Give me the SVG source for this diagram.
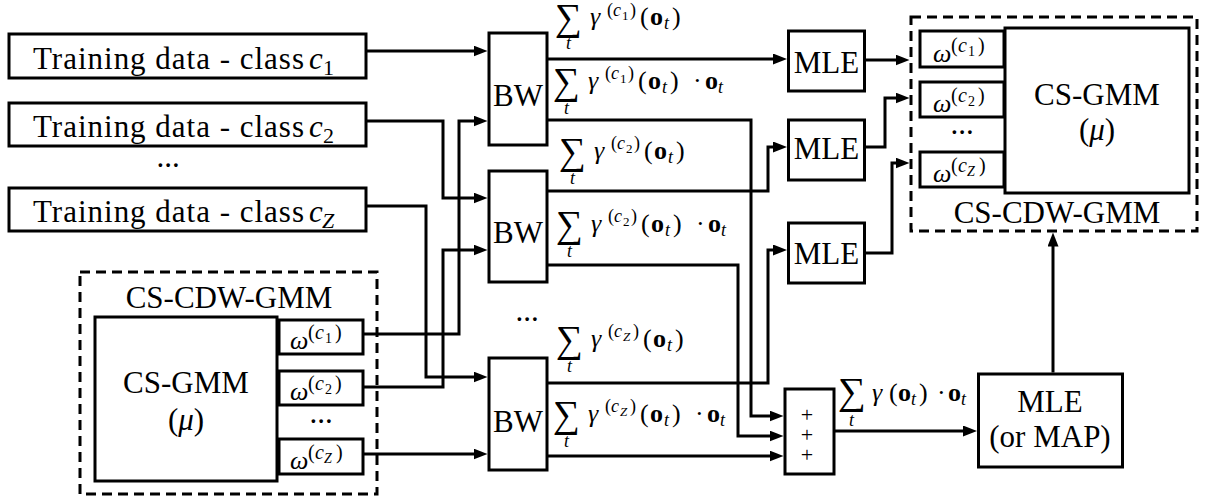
<svg xmlns="http://www.w3.org/2000/svg" width="1217" height="502" viewBox="0 0 1217 502" font-family="serif">
<defs>
<marker id="ah" markerUnits="userSpaceOnUse" markerWidth="14" markerHeight="11" refX="6" refY="5.5" orient="auto"><path d="M0,0 L14,5.5 L0,11 z" fill="#000"/></marker>
</defs>
<rect width="1217" height="502" fill="#fff"/>

<g id="train1">
<rect x="9" y="34" width="357" height="44" fill="#fff" stroke="#000" stroke-width="3"/>
<text font-family="serif" font-size="31" x="33" y="69" textLength="271">Training data - class</text>
<text font-family="serif" font-size="31" font-style="italic" x="309" y="69">c</text>
<text font-family="serif" font-size="22" x="323" y="75">1</text>
</g>
<g id="train2">
<rect x="9" y="103" width="357" height="43" fill="#fff" stroke="#000" stroke-width="3"/>
<text font-family="serif" font-size="31" x="33" y="137" textLength="271">Training data - class</text>
<text font-family="serif" font-size="31" font-style="italic" x="309" y="137">c</text>
<text font-family="serif" font-size="22" x="323" y="143">2</text>
</g>
<text font-family="serif" font-size="31" text-anchor="middle" x="168" y="167">...</text>
<g id="trainZ">
<rect x="9" y="188" width="357" height="43" fill="#fff" stroke="#000" stroke-width="3"/>
<text font-family="serif" font-size="31" x="33" y="222" textLength="271">Training data - class</text>
<text font-family="serif" font-size="31" font-style="italic" x="309" y="222">c</text>
<text font-family="serif" font-size="22" font-style="italic" x="322" y="228">Z</text>
</g>

<g id="cdw-left">
<rect x="80" y="272" width="297" height="222" fill="none" stroke="#000" stroke-width="3" stroke-dasharray="10 6"/>
<text font-family="serif" font-size="31" text-anchor="middle" x="229" y="308">CS-CDW-GMM</text>
<g id="gmm-left">
<rect x="95" y="317" width="182" height="164" fill="#fff" stroke="#000" stroke-width="3"/>
<text font-family="serif" font-size="31" text-anchor="middle" x="186" y="393">CS-GMM</text>
<text font-family="serif" font-size="31" text-anchor="middle" x="186" y="430">(<tspan font-style="italic">μ</tspan>)</text>
</g>
<g id="wl1">
<rect x="279" y="320" width="84" height="34" fill="#fff" stroke="#000" stroke-width="3"/>
<text font-family="serif" font-size="26" x="290" y="349"><tspan font-style="italic">ω</tspan><tspan font-size="20" x="308" y="339">(</tspan><tspan font-size="20" font-style="italic" x="315" y="339">c</tspan><tspan font-size="14" x="325" y="343">1</tspan><tspan font-size="20" x="335" y="339">)</tspan></text>
</g>
<g id="wl2">
<rect x="279" y="371" width="84" height="34" fill="#fff" stroke="#000" stroke-width="3"/>
<text font-family="serif" font-size="26" x="290" y="400"><tspan font-style="italic">ω</tspan><tspan font-size="20" x="308" y="390">(</tspan><tspan font-size="20" font-style="italic" x="315" y="390">c</tspan><tspan font-size="14" x="325" y="394">2</tspan><tspan font-size="20" x="335" y="390">)</tspan></text>
</g>
<text font-family="serif" font-size="31" text-anchor="middle" x="321" y="423">...</text>
<g id="wlZ">
<rect x="279" y="439" width="84" height="35" fill="#fff" stroke="#000" stroke-width="3"/>
<text font-family="serif" font-size="26" x="290" y="469"><tspan font-style="italic">ω</tspan><tspan font-size="20" x="308" y="459">(</tspan><tspan font-size="20" font-style="italic" x="315" y="459">c</tspan><tspan font-size="14" font-style="italic" x="324" y="463">Z</tspan><tspan font-size="20" x="336" y="459">)</tspan></text>
</g>
</g>

<g id="bw1">
<rect x="489" y="33" width="58" height="112" fill="#fff" stroke="#000" stroke-width="3"/>
<text font-family="serif" font-size="31" text-anchor="middle" x="518" y="106">BW</text>
</g>
<g id="bw2">
<rect x="489" y="171" width="58" height="111" fill="#fff" stroke="#000" stroke-width="3"/>
<text font-family="serif" font-size="31" text-anchor="middle" x="518" y="243">BW</text>
</g>
<text font-family="serif" font-size="31" text-anchor="middle" x="527" y="321">...</text>
<g id="bwZ">
<rect x="489" y="358" width="58" height="112" fill="#fff" stroke="#000" stroke-width="3"/>
<text font-family="serif" font-size="31" text-anchor="middle" x="518" y="432">BW</text>
</g>

<g id="mle1">
<rect x="788.5" y="31" width="76" height="60" fill="#fff" stroke="#000" stroke-width="3"/>
<text font-family="serif" font-size="31" text-anchor="middle" x="826.5" y="73">MLE</text>
</g>
<g id="mle2">
<rect x="788.5" y="120" width="76" height="60" fill="#fff" stroke="#000" stroke-width="3"/>
<text font-family="serif" font-size="31" text-anchor="middle" x="826.5" y="159">MLE</text>
</g>
<g id="mle3">
<rect x="788.5" y="223" width="76" height="60" fill="#fff" stroke="#000" stroke-width="3"/>
<text font-family="serif" font-size="31" text-anchor="middle" x="826.5" y="264">MLE</text>
</g>

<g id="cdw-right">
<rect x="911" y="17" width="286" height="214" fill="none" stroke="#000" stroke-width="3" stroke-dasharray="10 6"/>
<text font-family="serif" font-size="31" text-anchor="middle" x="1057" y="223">CS-CDW-GMM</text>
<g id="wr1">
<rect x="920" y="31" width="84" height="36" fill="#fff" stroke="#000" stroke-width="3"/>
<text font-family="serif" font-size="26" x="933" y="62"><tspan font-style="italic">ω</tspan><tspan font-size="20" x="951" y="52">(</tspan><tspan font-size="20" font-style="italic" x="958" y="52">c</tspan><tspan font-size="14" x="968" y="56">1</tspan><tspan font-size="20" x="978" y="52">)</tspan></text>
</g>
<g id="wr2">
<rect x="920" y="82" width="84" height="35" fill="#fff" stroke="#000" stroke-width="3"/>
<text font-family="serif" font-size="26" x="933" y="112"><tspan font-style="italic">ω</tspan><tspan font-size="20" x="951" y="102">(</tspan><tspan font-size="20" font-style="italic" x="958" y="102">c</tspan><tspan font-size="14" x="968" y="106">2</tspan><tspan font-size="20" x="978" y="102">)</tspan></text>
</g>
<text font-family="serif" font-size="31" text-anchor="middle" x="962" y="134">...</text>
<g id="wrZ">
<rect x="920" y="152" width="84" height="35" fill="#fff" stroke="#000" stroke-width="3"/>
<text font-family="serif" font-size="26" x="933" y="182"><tspan font-style="italic">ω</tspan><tspan font-size="20" x="951" y="172">(</tspan><tspan font-size="20" font-style="italic" x="958" y="172">c</tspan><tspan font-size="14" font-style="italic" x="967" y="176">Z</tspan><tspan font-size="20" x="979" y="172">)</tspan></text>
</g>
<g id="gmm-right">
<rect x="1005" y="28" width="184" height="165" fill="#fff" stroke="#000" stroke-width="3"/>
<text font-family="serif" font-size="31" text-anchor="middle" x="1097" y="105">CS-GMM</text>
<text font-family="serif" font-size="31" text-anchor="middle" x="1097" y="140">(<tspan font-style="italic">μ</tspan>)</text>
</g>
</g>

<g id="plus">
<rect x="785" y="389" width="49" height="85" fill="#fff" stroke="#000" stroke-width="3"/>
<text font-family="serif" font-size="22" text-anchor="middle" x="807" y="422">+</text>
<text font-family="serif" font-size="22" text-anchor="middle" x="807" y="442">+</text>
<text font-family="serif" font-size="22" text-anchor="middle" x="807" y="462">+</text>
</g>

<g id="mle-map">
<rect x="978.5" y="374" width="144" height="93" fill="#fff" stroke="#000" stroke-width="3"/>
<text font-family="serif" font-size="31" text-anchor="middle" x="1050" y="412">MLE</text>
<text font-family="serif" font-size="31" text-anchor="middle" x="1050" y="447">(or MAP)</text>
</g>

<g id="connectors" fill="none" stroke="#000" stroke-width="3" marker-end="url(#ah)">
<path d="M366,51 H479.5"/>
<path d="M366,121 H443 V198 H479.5"/>
<path d="M366,206 H426 V377 H479.5"/>
<path d="M363,334 H459 V121 H479.5"/>
<path d="M363,387 H443 V250 H479.5"/>
<path d="M363,454 H479.5"/>
<path d="M548,59 H779"/>
<path d="M548,120 H751 V416 H775.5"/>
<path d="M548,191 H768 V147 H779"/>
<path d="M548,265 H738 V436 H775.5"/>
<path d="M548,383 H768 V250 H779"/>
<path d="M548,456 H775.5"/>
<path d="M864,60 H901.5"/>
<path d="M864,147 H885 V98 H901.5"/>
<path d="M864,253 H892 V163 H901.5"/>
<path d="M834,431 H969"/>
<path d="M1053,372.5 V240.5"/>
</g>

<g id="labels">
<g id="L1">
<text font-family="serif" font-size="38" x="555" y="30" textLength="27" lengthAdjust="spacingAndGlyphs">∑</text>
<text font-family="serif" font-size="18" font-style="italic" x="566" y="49">t</text>
<text font-family="serif" font-size="26"><tspan font-style="italic" x="590" y="25">γ</tspan><tspan font-size="18" x="607" y="16">(</tspan><tspan font-size="18" font-style="italic" x="613" y="16">c</tspan><tspan font-size="13" x="622" y="20">1</tspan><tspan font-size="18" x="630" y="16">)</tspan><tspan x="640" y="25">(</tspan><tspan font-weight="bold" x="650" y="25">o</tspan><tspan font-size="18" font-style="italic" x="664" y="29">t</tspan><tspan x="672" y="25">)</tspan></text>
</g>
<g id="L2">
<text font-family="serif" font-size="38" x="553" y="94" textLength="27" lengthAdjust="spacingAndGlyphs">∑</text>
<text font-family="serif" font-size="18" font-style="italic" x="564" y="114">t</text>
<text font-family="serif" font-size="26"><tspan font-style="italic" x="588" y="89">γ</tspan><tspan font-size="18" x="605" y="79">(</tspan><tspan font-size="18" font-style="italic" x="611" y="79">c</tspan><tspan font-size="13" x="620" y="83">1</tspan><tspan font-size="18" x="628" y="79">)</tspan><tspan x="638" y="89">(</tspan><tspan font-weight="bold" x="648" y="89">o</tspan><tspan font-size="18" font-style="italic" x="662" y="93">t</tspan><tspan x="670" y="89">)</tspan><tspan x="693" y="89">·</tspan><tspan font-weight="bold" x="705" y="89">o</tspan><tspan font-size="18" font-style="italic" x="718" y="93">t</tspan></text>
</g>
<g id="L3">
<text font-family="serif" font-size="38" x="559" y="164" textLength="27" lengthAdjust="spacingAndGlyphs">∑</text>
<text font-family="serif" font-size="18" font-style="italic" x="570" y="184">t</text>
<text font-family="serif" font-size="26"><tspan font-style="italic" x="594" y="159">γ</tspan><tspan font-size="18" x="611" y="149">(</tspan><tspan font-size="18" font-style="italic" x="617" y="149">c</tspan><tspan font-size="13" x="626" y="153">2</tspan><tspan font-size="18" x="634" y="149">)</tspan><tspan x="644" y="159">(</tspan><tspan font-weight="bold" x="654" y="159">o</tspan><tspan font-size="18" font-style="italic" x="668" y="163">t</tspan><tspan x="676" y="159">)</tspan></text>
</g>
<g id="L4">
<text font-family="serif" font-size="38" x="556" y="237" textLength="27" lengthAdjust="spacingAndGlyphs">∑</text>
<text font-family="serif" font-size="18" font-style="italic" x="567" y="257">t</text>
<text font-family="serif" font-size="26"><tspan font-style="italic" x="591" y="232">γ</tspan><tspan font-size="18" x="608" y="222">(</tspan><tspan font-size="18" font-style="italic" x="614" y="222">c</tspan><tspan font-size="13" x="623" y="226">2</tspan><tspan font-size="18" x="631" y="222">)</tspan><tspan x="641" y="232">(</tspan><tspan font-weight="bold" x="651" y="232">o</tspan><tspan font-size="18" font-style="italic" x="665" y="236">t</tspan><tspan x="673" y="232">)</tspan><tspan x="696" y="232">·</tspan><tspan font-weight="bold" x="708" y="232">o</tspan><tspan font-size="18" font-style="italic" x="721" y="236">t</tspan></text>
</g>
<g id="L5">
<text font-family="serif" font-size="38" x="556" y="352" textLength="27" lengthAdjust="spacingAndGlyphs">∑</text>
<text font-family="serif" font-size="18" font-style="italic" x="567" y="372">t</text>
<text font-family="serif" font-size="26"><tspan font-style="italic" x="591" y="347">γ</tspan><tspan font-size="18" x="608" y="337">(</tspan><tspan font-size="18" font-style="italic" x="614" y="337">c</tspan><tspan font-size="13" font-style="italic" x="623" y="341">Z</tspan><tspan font-size="18" x="633" y="337">)</tspan><tspan x="643" y="347">(</tspan><tspan font-weight="bold" x="653" y="347">o</tspan><tspan font-size="18" font-style="italic" x="667" y="351">t</tspan><tspan x="675" y="347">)</tspan></text>
</g>
<g id="L6">
<text font-family="serif" font-size="38" x="553" y="427" textLength="27" lengthAdjust="spacingAndGlyphs">∑</text>
<text font-family="serif" font-size="18" font-style="italic" x="564" y="447">t</text>
<text font-family="serif" font-size="26"><tspan font-style="italic" x="588" y="422">γ</tspan><tspan font-size="18" x="605" y="412">(</tspan><tspan font-size="18" font-style="italic" x="611" y="412">c</tspan><tspan font-size="13" font-style="italic" x="620" y="416">Z</tspan><tspan font-size="18" x="630" y="412">)</tspan><tspan x="640" y="422">(</tspan><tspan font-weight="bold" x="650" y="422">o</tspan><tspan font-size="18" font-style="italic" x="664" y="426">t</tspan><tspan x="672" y="422">)</tspan><tspan x="695" y="422">·</tspan><tspan font-weight="bold" x="707" y="422">o</tspan><tspan font-size="18" font-style="italic" x="720" y="426">t</tspan></text>
</g>
<g id="L7">
<text font-family="serif" font-size="38" x="838" y="404" textLength="28" lengthAdjust="spacingAndGlyphs">∑</text>
<text font-family="serif" font-size="18" font-style="italic" x="849" y="426">t</text>
<text font-family="serif" font-size="26"><tspan font-style="italic" x="872" y="401">γ</tspan><tspan x="889" y="401">(</tspan><tspan font-weight="bold" x="898" y="401">o</tspan><tspan font-size="18" font-style="italic" x="911" y="405">t</tspan><tspan x="919" y="401">)</tspan><tspan x="937" y="401">·</tspan><tspan font-weight="bold" x="948" y="401">o</tspan><tspan font-size="18" font-style="italic" x="961" y="405">t</tspan></text>
</g>
</g>
</svg>
